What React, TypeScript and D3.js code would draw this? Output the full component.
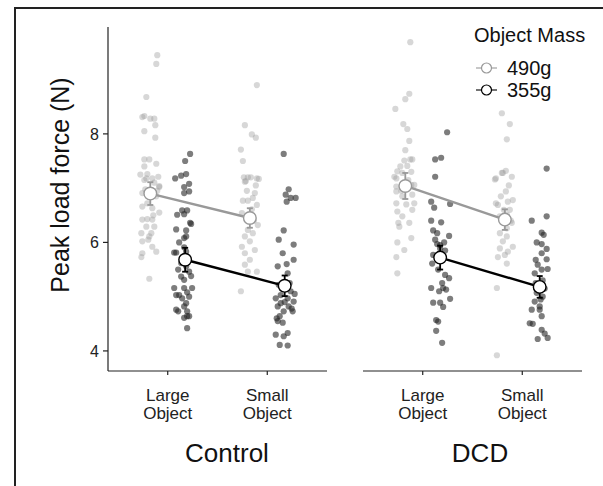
import React from "react";
import * as d3 from "d3";

const groups = ["Control", "DCD"];
const objectLabels = [["Large", "Object"], ["Small", "Object"]];
const masses = ["490g", "355g"];
const yTicks = [4, 6, 8];

// points: [horizontal jitter (category units), peak load force (N)]
const controlLarge490 = [
  [0.07, 9.45], [0.06, 9.29], [-0.04, 8.68], [-0.08, 8.31], [-0.06, 8.33], [0.0, 8.28], [0.04, 8.28],
  [0.05, 8.16], [-0.06, 8.05], [0.05, 7.93], [-0.06, 7.53], [-0.01, 7.53], [-0.06, 7.4], [0.06, 7.45],
  [-0.1, 7.25], [-0.03, 7.26], [0.08, 7.21], [-0.04, 7.18], [0.09, 7.02], [0.04, 7.1], [0.02, 7.18],
  [-0.06, 7.15], [0.09, 7.04], [-0.08, 6.91], [0.06, 6.85], [-0.03, 6.72], [0.09, 6.55], [-0.08, 6.66],
  [0.02, 6.63], [-0.08, 6.42], [-0.03, 6.43], [0.02, 6.42], [0.04, 6.29], [-0.04, 6.29], [-0.09, 6.17],
  [0.01, 6.17], [-0.01, 6.11], [-0.08, 6.02], [0.02, 5.92], [0.06, 5.83], [-0.08, 5.8], [-0.09, 5.73],
  [-0.01, 5.33], [0.07, 6.95], [-0.05, 6.98], [0.03, 6.5], [-0.02, 6.05],
];
const controlLarge355 = [
  [0.05, 7.63], [0.0, 7.5], [-0.1, 7.18], [-0.04, 7.23], [0.01, 7.26], [0.04, 7.08], [-0.01, 7.02],
  [0.04, 6.94], [-0.01, 6.91], [-0.03, 6.59], [0.02, 6.59], [-0.08, 6.51], [-0.01, 6.52], [0.06, 6.34],
  [0.05, 6.36], [-0.09, 6.24], [0.01, 6.22], [0.01, 6.11], [-0.01, 6.08], [-0.06, 6.0], [-0.01, 5.91],
  [-0.09, 5.81], [0.01, 5.83], [-0.11, 5.81], [-0.04, 5.62], [0.01, 5.56], [-0.07, 5.5], [0.04, 5.46],
  [-0.04, 5.37], [0.06, 5.38], [-0.01, 5.31], [-0.11, 5.16], [0.07, 5.16], [-0.01, 5.16], [0.02, 5.08],
  [-0.09, 5.03], [0.04, 5.0], [-0.03, 4.97], [-0.06, 5.03], [0.01, 4.88], [-0.01, 4.82], [-0.07, 4.73],
  [0.02, 4.73], [0.04, 4.64], [-0.01, 4.61], [-0.09, 4.76], [0.02, 4.64], [0.02, 4.42],
];
const controlSmall490 = [
  [0.07, 8.9], [-0.05, 8.16], [0.02, 7.99], [0.06, 7.93], [-0.09, 7.71], [-0.07, 7.5], [-0.06, 7.2],
  [-0.02, 7.2], [0.01, 7.2], [-0.04, 7.13], [0.09, 7.17], [-0.05, 7.12], [0.07, 7.18], [0.05, 6.91],
  [0.03, 6.82], [-0.07, 6.77], [-0.02, 6.77], [0.07, 6.69], [0.02, 6.61], [-0.08, 6.54], [0.08, 6.32],
  [-0.02, 6.23], [0.03, 6.17], [-0.05, 6.11], [0.0, 6.02], [-0.08, 5.92], [0.05, 5.86], [-0.05, 5.8],
  [0.0, 5.68], [-0.05, 5.59], [0.07, 5.46], [-0.02, 5.46], [-0.09, 5.1], [0.04, 6.4], [-0.03, 6.95],
  [0.06, 7.05],
];
const controlSmall355 = [
  [-0.01, 7.63], [0.04, 6.98], [0.01, 6.88], [0.06, 6.82], [0.11, 6.82], [0.02, 6.75], [-0.01, 6.22],
  [-0.06, 6.05], [0.09, 5.96], [-0.02, 5.8], [0.09, 5.68], [-0.07, 5.56], [0.03, 5.43], [-0.06, 5.22],
  [0.06, 5.1], [-0.04, 5.03], [0.03, 4.97], [-0.09, 4.97], [0.09, 4.91], [0.04, 4.82], [0.08, 4.73],
  [-0.07, 4.82], [-0.01, 4.73], [-0.05, 4.64], [-0.07, 4.55], [-0.02, 4.52], [-0.09, 4.3], [-0.01, 4.27],
  [0.03, 4.33], [-0.05, 4.11], [0.03, 4.1], [0.05, 5.25], [-0.03, 5.15], [0.0, 4.9], [0.07, 4.78],
  [-0.04, 4.88], [0.02, 5.6], [0.1, 5.05], [-0.08, 4.6],
];
const dcdLarge490 = [
  [0.05, 9.69], [0.04, 8.74], [0.0, 8.64], [-0.1, 8.46], [-0.02, 8.18], [0.02, 8.09], [0.04, 7.87],
  [0.0, 7.7], [0.05, 7.53], [-0.01, 7.51], [0.07, 7.53], [-0.05, 7.4], [0.02, 7.41], [-0.08, 7.31],
  [-0.03, 7.28], [-0.09, 7.18], [0.09, 7.06], [-0.09, 7.03], [-0.11, 7.21], [-0.09, 6.94], [0.06, 7.06],
  [0.07, 6.88], [-0.03, 6.85], [0.09, 6.72], [-0.09, 6.72], [-0.08, 6.57], [0.07, 6.6], [-0.03, 6.48],
  [0.04, 6.36], [-0.07, 6.36], [-0.06, 6.29], [0.06, 6.08], [-0.08, 6.0], [-0.01, 5.86], [-0.09, 5.73],
  [-0.08, 5.43], [0.03, 7.15], [-0.04, 6.95], [0.01, 6.7], [0.06, 7.3],
];
const dcdLarge355 = [
  [0.07, 8.03], [-0.05, 7.53], [0.01, 7.56], [-0.05, 7.21], [-0.09, 6.75], [0.1, 6.71], [-0.06, 6.64],
  [-0.09, 6.4], [0.01, 6.37], [-0.07, 6.22], [-0.03, 6.17], [0.09, 6.12], [-0.05, 6.05], [-0.03, 5.97],
  [0.0, 5.89], [-0.07, 5.77], [0.03, 5.74], [-0.08, 5.61], [0.05, 5.4], [0.09, 5.34], [0.02, 5.25],
  [-0.09, 5.16], [0.03, 5.16], [-0.01, 5.1], [0.06, 5.13], [0.1, 4.96], [-0.07, 4.89], [0.0, 4.89],
  [0.03, 4.81], [-0.04, 4.57], [-0.02, 4.54], [-0.04, 4.37], [0.02, 4.15], [0.0, 5.95], [0.04, 6.0],
  [-0.02, 5.5], [0.05, 5.85],
];
const dcdSmall490 = [
  [-0.03, 8.38], [0.05, 8.18], [0.02, 7.9], [0.01, 7.32], [-0.03, 7.28], [-0.09, 7.18], [0.07, 7.21],
  [-0.02, 7.28], [-0.1, 7.16], [0.01, 6.94], [-0.09, 6.72], [-0.07, 6.69], [0.03, 6.75], [0.08, 6.78],
  [0.05, 6.6], [0.02, 6.51], [-0.05, 6.48], [0.07, 6.36], [0.02, 6.26], [-0.05, 6.17], [0.02, 6.11],
  [-0.02, 6.02], [0.08, 5.92], [-0.05, 5.89], [0.03, 5.83], [0.0, 5.77], [-0.07, 5.73], [0.02, 5.61],
  [-0.08, 5.16], [-0.08, 3.92], [0.04, 7.05], [-0.04, 6.85], [0.06, 6.4], [-0.01, 6.6],
];
const dcdSmall355 = [
  [0.07, 7.36], [-0.08, 6.4], [0.07, 6.48], [0.02, 6.18], [0.04, 6.14], [-0.03, 6.0], [0.02, 5.97],
  [0.07, 5.88], [0.02, 5.8], [-0.04, 5.68], [0.07, 5.69], [-0.02, 5.59], [0.08, 5.51], [0.02, 5.5],
  [-0.05, 5.43], [-0.03, 5.07], [0.03, 5.0], [-0.05, 4.91], [0.0, 4.82], [-0.08, 4.76], [0.0, 4.76],
  [0.02, 4.64], [-0.1, 4.51], [-0.07, 4.5], [0.02, 4.39], [0.05, 4.32], [-0.02, 4.22], [0.08, 4.24],
  [0.03, 5.3], [-0.01, 5.2], [0.05, 5.15], [-0.04, 5.25], [0.01, 4.95],
];

// means and standard errors, [Large, Small]
const controlMean490 = [6.9, 6.45];
const controlMean355 = [5.68, 5.2];
const dcdMean490 = [7.04, 6.42];
const dcdMean355 = [5.72, 5.18];
const controlSe490 = [0.21, 0.18];
const controlSe355 = [0.22, 0.19];
const dcdSe490 = [0.24, 0.19];
const dcdSe355 = [0.22, 0.2];

const panels = [
  {
    name: groups[0],
    points: [[controlLarge490, controlSmall490], [controlLarge355, controlSmall355]],
    means: [controlMean490, controlMean355],
    se: [controlSe490, controlSe355],
  },
  {
    name: groups[1],
    points: [[dcdLarge490, dcdSmall490], [dcdLarge355, dcdSmall355]],
    means: [dcdMean490, dcdMean355],
    se: [dcdSe490, dcdSe355],
  },
];

const font = "'Liberation Sans', Arial, Helvetica, sans-serif";
const pointFill = ["#9a9a9a", "#262626"];
const pointOpacity = [0.4, 0.6];
const lineColor = ["#999999", "#000000"];
const dodge = [-0.175, 0.175];

const W = 603;
const H = 486;
const top = 27;
const bottom = 371;
const panelX = [[108, 327], [363, 582]];

export default function App() {
  const y = d3.scaleLinear().domain([3.63, 9.97]).range([bottom, top]);

  return (
    <svg width={W} height={H} style={{ position: "absolute", left: 0, top: 0, background: "#fff" }} fontFamily={font}>
      <rect x={15} y={8} width={640} height={520} fill="none" stroke="#222" strokeWidth={2} />

      {/* y axis */}
      <line x1={108} x2={108} y1={top} y2={bottom} stroke="#222" strokeWidth={1.2} />
      {yTicks.map((t) => (
        <g key={t}>
          <line x1={103} x2={108} y1={y(t)} y2={y(t)} stroke="#222" strokeWidth={1.2} />
          <text x={99} y={y(t)} dy="0.36em" textAnchor="end" fontSize={16} fill="#222">
            {t}
          </text>
        </g>
      ))}
      <text
        transform={`translate(60,${185}) rotate(-90)`}
        textAnchor="middle"
        dy="0.36em"
        fontSize={25}
        fill="#111"
      >
        Peak load force (N)
      </text>

      {panels.map((p, pi) => {
        const x = d3.scaleLinear().domain([0.4, 2.6]).range(panelX[pi]);
        const labelX = [227, 480][pi];
        return (
          <g key={p.name}>
            <line x1={panelX[pi][0]} x2={panelX[pi][1]} y1={bottom} y2={bottom} stroke="#222" strokeWidth={1.2} />
            {objectLabels.map((lab, ci) => (
              <g key={ci}>
                <line x1={x(ci + 1)} x2={x(ci + 1)} y1={bottom} y2={bottom + 4} stroke="#222" strokeWidth={1.2} />
                <text x={x(ci + 1)} y={395} dy="0.36em" textAnchor="middle" fontSize={17} fill="#222">
                  {lab[0]}
                </text>
                <text x={x(ci + 1)} y={413} dy="0.36em" textAnchor="middle" fontSize={17} fill="#222">
                  {lab[1]}
                </text>
              </g>
            ))}
            <text x={labelX} y={453} dy="0.36em" textAnchor="middle" fontSize={26} fill="#111">
              {p.name}
            </text>

            {/* raw points */}
            {p.points.map((byObj, mi) =>
              byObj.map((pts, ci) =>
                pts.map((d, k) => (
                  <circle
                    key={`${mi}-${ci}-${k}`}
                    cx={x(ci + 1 + dodge[mi] + d[0])}
                    cy={y(d[1])}
                    r={3.1}
                    fill={pointFill[mi]}
                    fillOpacity={pointOpacity[mi]}
                  />
                ))
              )
            )}

            {/* mean lines, error bars, means */}
            {p.means.map((m, mi) => {
              const line = d3
                .line<number>()
                .x((_, ci) => x(ci + 1 + dodge[mi]))
                .y((v) => y(v));
              return (
                <g key={mi}>
                  <path d={line(m) || ""} fill="none" stroke={lineColor[mi]} strokeWidth={2.4} />
                  {m.map((v, ci) => {
                    const cx = x(ci + 1 + dodge[mi]);
                    const lo = y(v - p.se[mi][ci]);
                    const hi = y(v + p.se[mi][ci]);
                    return (
                      <g key={ci} stroke={lineColor[mi]} strokeWidth={1.8}>
                        <line x1={cx} x2={cx} y1={lo} y2={hi} />
                        <line x1={cx - 3} x2={cx + 3} y1={lo} y2={lo} />
                        <line x1={cx - 3} x2={cx + 3} y1={hi} y2={hi} />
                        <circle cx={cx} cy={y(v)} r={6.3} fill="#fff" strokeWidth={1.4} />
                      </g>
                    );
                  })}
                </g>
              );
            })}
          </g>
        );
      })}

      {/* legend */}
      <text x={474} y={35} dy="0.36em" fontSize={20} fill="#111">
        Object Mass
      </text>
      {masses.map((m, i) => (
        <g key={m}>
          <line x1={476} x2={497} y1={68 + i * 22} y2={68 + i * 22} stroke={lineColor[i]} strokeWidth={1.1} />
          <circle cx={486.5} cy={68 + i * 22} r={5} fill="#fff" stroke={lineColor[i]} strokeWidth={1.2} />
          <text x={507} y={68 + i * 22} dy="0.36em" fontSize={20} fill="#111">
            {m}
          </text>
        </g>
      ))}
    </svg>
  );
}
